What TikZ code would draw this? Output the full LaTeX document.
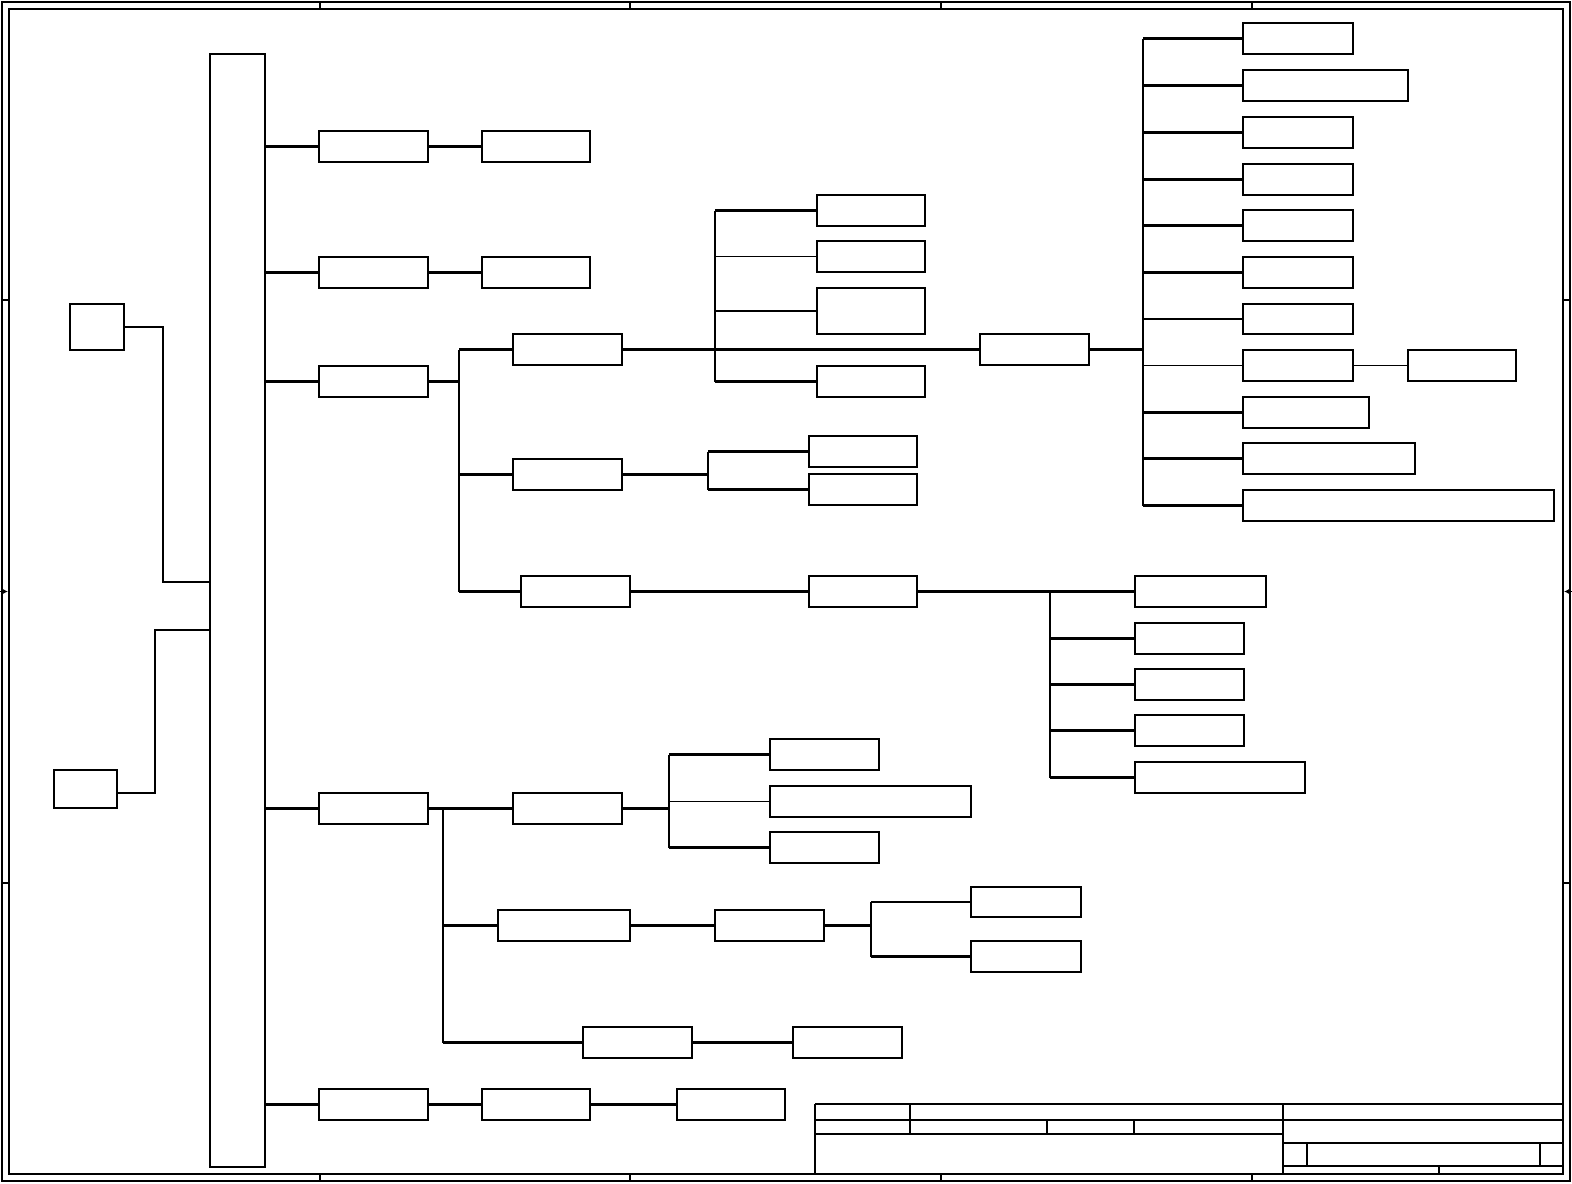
\documentclass[tikz,border=0pt]{standalone}
\usetikzlibrary{arrows.meta}
\begin{document}
\begin{tikzpicture}[x=0.5pt,y=-0.5pt,line join=miter,
  bx/.style={draw,line width=1.1pt,inner sep=0pt,rectangle},
  bxthin/.style={draw,line width=0.6pt,inner sep=0pt,rectangle},
  thk/.style={line width=1.1pt},
  thn/.style={line width=0.6pt}]
\useasboundingbox (0,0) rectangle (1572,1183);
\newcommand\bx[6][bx]{\node[#1,minimum width={(#5-#3)*0.5pt},minimum height={(#6-#4)*0.5pt}] (#2) at ({(#3+#5)/2},{(#4+#6)/2}) {};}
% frame
\draw[thk] (2,2) rectangle (1570,1181);
\draw[thk] (9,9) rectangle (1563,1174);
\foreach \x in {320,630,941,1252} {\draw[thk] (\x,2)--(\x,9); \draw[thk] (\x,1174)--(\x,1181);}
\foreach \y in {300,883} {\draw[thk] (2,\y)--(9,\y); \draw[thk] (1563,\y)--(1570,\y);}
\coordinate (al0) at (0,591.5); \coordinate (al1) at (8,591.5);
\coordinate (ar0) at (1572,591.5); \coordinate (ar1) at (1564,591.5);
\draw[thn,-{Latex[length=2.5pt,width=2.5pt]}] (al0)--(al1);
\draw[thn,-{Latex[length=2.5pt,width=2.5pt]}] (ar0)--(ar1);
% boxes
\bx{M}{210}{54}{265}{1167}
\bx{L1}{70}{304}{124}{350}
\bx{L2}{54}{770}{117}{808}
\bx{A1}{319}{131}{428}{162} \bx{A2}{482}{131}{590}{162}
\bx{B1}{319}{257}{428}{288} \bx{B2}{482}{257}{590}{288}
\bx{C}{319}{366}{428}{397}
\bx{D}{319}{793}{428}{824}
\bx{E1}{319}{1089}{428}{1120} \bx{E2}{482}{1089}{590}{1120} \bx{E3}{677}{1089}{785}{1120}
\bx{C1}{513}{334}{622}{365}
\bx{C2}{513}{459}{622}{490}
\bx{C3}{521}{576}{630}{607}
\bx{P1}{817}{195}{925}{226}
\bx{P2}{817}{241}{925}{272}
\bx{P3}{817}{288}{925}{334}
\bx{P4}{817}{366}{925}{397}
\bx{Q}{980}{334}{1089}{365}
\bx{R1}{1243}{23}{1353}{54}
\bx{R2}{1243}{70}{1408}{101}
\bx{R3}{1243}{117}{1353}{148}
\bx{R4}{1243}{164}{1353}{195}
\bx{R5}{1243}{210}{1353}{241}
\bx{R6}{1243}{257}{1353}{288}
\bx{R7}{1243}{304}{1353}{334}
\bx{R8}{1243}{350}{1353}{381}
\bx{R8b}{1408}{350}{1516}{381}
\bx{R9}{1243}{397}{1369}{428}
\bx{R10}{1243}{443}{1415}{474}
\bx{R11}{1243}{490}{1554}{521}
\bx{S1}{809}{436}{917}{467}
\bx{S2}{809}{474}{917}{505}
\bx{T}{809}{576}{917}{607}
\bx{U1}{1135}{576}{1266}{607}
\bx{U2}{1135}{623}{1244}{654}
\bx{U3}{1135}{669}{1244}{700}
\bx{U4}{1135}{715}{1244}{746}
\bx{U5}{1135}{762}{1305}{793}
\bx{D1}{513}{793}{622}{824}
\bx{D2}{498}{910}{630}{941}
\bx{D3}{583}{1027}{692}{1058}
\bx{V1}{770}{739}{879}{770}
\bx[bxthin]{V2}{770}{786}{971}{817}
\bx{V3}{770}{832}{879}{863}
\bx{W}{715}{910}{824}{941}
\bx{X1}{971}{887}{1081}{917}
\bx{X2}{971}{941}{1081}{972}
\bx{Y}{793}{1027}{902}{1058}
% bus coordinates
\coordinate (j1) at (163,582);
\coordinate (j2) at (155,630);
\coordinate (l2o) at (117,793);
\coordinate (bC) at (459,0);
\coordinate (bC1) at (715,0);
\coordinate (bQ) at (1143,0);
\coordinate (bC2) at (708,0);
\coordinate (bT) at (1050,0);
\coordinate (bD) at (443,0);
\coordinate (bD1) at (669,0);
\coordinate (bW) at (871,0);
% connectors
\draw[thk] (L1.east) -| (j1) -- (M.west |- j1);
\draw[thk] (l2o) -| (j2) -- (M.west |- j2);
\draw[thk] (M.east |- A1.west) -- (A1.west);
\draw[thk] (A1.east) -- (A2.west);
\draw[thk] (M.east |- B1.west) -- (B1.west);
\draw[thk] (B1.east) -- (B2.west);
\draw[thk] (M.east |- C.west) -- (C.west);
\draw[thk] (M.east |- D.west) -- (D.west);
\draw[thk] (M.east |- E1.west) -- (E1.west);
\draw[thk] (E1.east) -- (E2.west);
\draw[thk] (E2.east) -- (E3.west);
% C branch
\draw[thk] (C.east) -- (C.east -| bC);
\draw[thk] (bC |- C1.west) -- (bC |- C3.west);
\draw[thk] (bC |- C1.west) -- (C1.west);
\draw[thk] (bC |- C2.west) -- (C2.west);
\draw[thk] (bC |- C3.west) -- (C3.west);
% C1 branch
\draw[thk] (C1.east) -- (Q.west);
\draw[thk] (bC1 |- P1.west) -- (bC1 |- P4.west);
\draw[thk] (bC1 |- P1.west) -- (P1.west);
\draw[thn] (bC1 |- P2.west) -- (P2.west);
\draw[thk] (bC1 |- P3.west) -- (P3.west);
\draw[thk] (bC1 |- P4.west) -- (P4.west);
% Q branch
\draw[thk] (Q.east) -- (Q.east -| bQ);
\draw[thk] (bQ |- R1.west) -- (bQ |- R11.west);
\foreach \r in {R1,R2,R3,R4,R5,R6,R7,R9,R10,R11} {\draw[thk] (bQ |- \r.west) -- (\r.west);}
\draw[thn] (bQ |- R8.west) -- (R8.west);
\draw[thn] (R8.east) -- (R8b.west);
% C2 branch
\draw[thk] (C2.east) -- (C2.east -| bC2);
\draw[thk] (bC2 |- S1.west) -- (bC2 |- S2.west);
\draw[thk] (bC2 |- S1.west) -- (S1.west);
\draw[thk] (bC2 |- S2.west) -- (S2.west);
% C3 branch
\draw[thk] (C3.east) -- (T.west);
\draw[thk] (T.east) -- (U1.west);
\draw[thk] (bT |- U1.west) -- (bT |- U5.west);
\foreach \u in {U2,U3,U4,U5} {\draw[thk] (bT |- \u.west) -- (\u.west);}
% D branch
\draw[thk] (D.east) -- (D1.west);
\draw[thk] (bD |- D1.west) -- (bD |- D3.west);
\draw[thk] (bD |- D2.west) -- (D2.west);
\draw[thk] (bD |- D3.west) -- (D3.west);
\draw[thk] (D1.east) -- (D1.east -| bD1);
\draw[thk] (bD1 |- V1.west) -- (bD1 |- V3.west);
\draw[thk] (bD1 |- V1.west) -- (V1.west);
\draw[thn] (bD1 |- V2.west) -- (V2.west);
\draw[thk] (bD1 |- V3.west) -- (V3.west);
\draw[thk] (D2.east) -- (W.west);
\draw[thk] (W.east) -- (W.east -| bW);
\draw[thk] (bW |- X1.west) -- (bW |- X2.west);
\draw[thk] (bW |- X1.west) -- (X1.west);
\draw[thk] (bW |- X2.west) -- (X2.west);
\draw[thk] (D3.east) -- (Y.west);
% title block
\draw[thk] (815,1104) -- (1563,1104);
\draw[thk] (815,1120) -- (1563,1120);
\draw[thk] (815,1134) -- (1283,1134);
\draw[thk] (815,1104) -- (815,1174);
\draw[thk] (1283,1104) -- (1283,1174);
\draw[thk] (910,1104) -- (910,1134);
\draw[thk] (1047,1120) -- (1047,1134);
\draw[thk] (1134,1120) -- (1134,1134);
\draw[thk] (1283,1143) -- (1563,1143);
\draw[thk] (1283,1166) -- (1563,1166);
\draw[thk] (1307,1143) -- (1307,1166);
\draw[thk] (1540,1143) -- (1540,1166);
\draw[thk] (1439,1166) -- (1439,1174);
\end{tikzpicture}
\end{document}
